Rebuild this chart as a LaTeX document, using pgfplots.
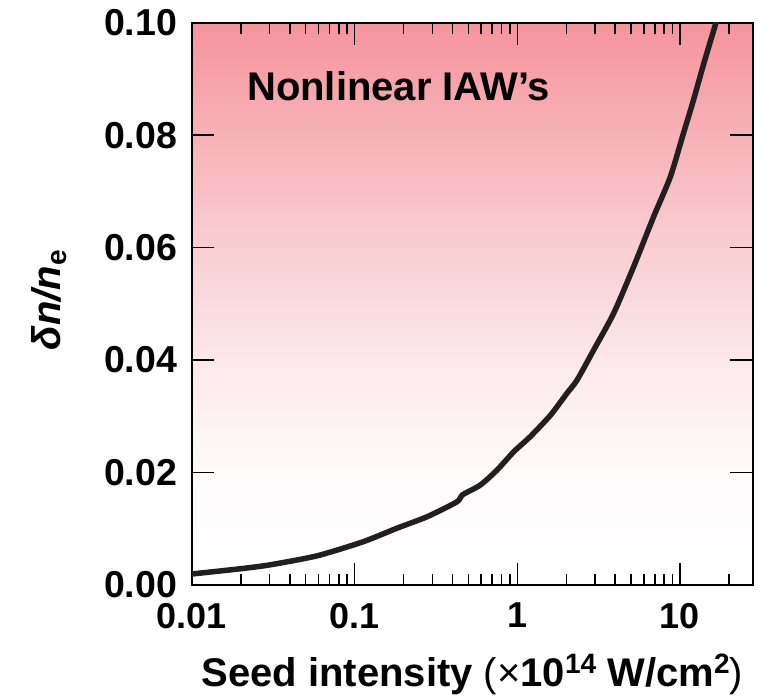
\documentclass[border=0pt]{standalone}
\usepackage{fontspec}
\setmainfont{Liberation Sans}
\usepackage{pgfplots}
\pgfplotsset{compat=1.18}
\definecolor{curve}{RGB}{35,31,32}
\definecolor{pinktop}{RGB}{245,148,155}
\definecolor{p65}{RGB}{247,178,183}
\definecolor{p55}{RGB}{249,206,210}
\definecolor{p45}{RGB}{252,232,235}
\definecolor{p35}{RGB}{254,251,251}
\pgfdeclareverticalshading{bgshade}{100bp}{color(0bp)=(white); color(25bp)=(white); color(35bp)=(p35); color(45bp)=(p45); color(55bp)=(p55); color(65bp)=(p65); color(75bp)=(pinktop); color(100bp)=(pinktop)}
\newcommand{\mysup}[1]{\raisebox{13pt}{\fontsize{28}{28}\selectfont #1}}
\begin{document}
\begin{tikzpicture}
\begin{axis}[
  at={(0,0)}, anchor=south west,
  scale only axis, width=560.7pt, height=562.3pt,
  xmode=log, xmin=0.01, xmax=28, ymin=0, ymax=0.1,
  axis line style={line width=2pt, black},
  axis background/.style={shading=bgshade},
  xtick={0.01,0.1,1,10},
  xticklabels={0.01,0.1,1,10},
  minor xtick={0.02,0.03,0.04,0.05,0.06,0.07,0.08,0.09,0.2,0.3,0.4,0.5,0.6,0.7,0.8,0.9,2,3,4,5,6,7,8,9,20},
  ytick={0,0.02,0.04,0.06,0.08,0.1},
  /pgf/number format/fixed,
  /pgf/number format/fixed zerofill,
  /pgf/number format/precision=2,
  /pgf/number format/assume math mode=true,
  scaled y ticks=false,
  tick align=inside,
  major tick length=22.5pt, minor tick length=11pt,
  every tick/.style={line width=1.5pt, black},
  tick label style={font=\fontsize{36}{36}\selectfont\bfseries, inner sep=0pt},
  xticklabel style={anchor=north, yshift=-18pt},
  yticklabel style={anchor=east, xshift=-14.7pt, font=\fontsize{37.5}{37.5}\selectfont\bfseries},
  clip mode=individual,
]
\addplot[line width=5.5pt, color=curve, line join=round, smooth, tension=0.4] coordinates {
(0.01,0.00196) (0.02,0.0029) (0.0304,0.0036) (0.059,0.0052) (0.113,0.0077)
(0.182,0.0101) (0.279,0.01214) (0.426,0.0148) (0.458,0.0160) (0.593,0.01778)
(0.751,0.02044) (0.951,0.0237) (1.20,0.02637) (1.60,0.0302) (2.02,0.0341)
(2.33,0.03644) (2.95,0.0418) (3.91,0.0483) (5.19,0.0566) (6.89,0.0655)
(8.73,0.0726) (10.5,0.0803) (12.1,0.0862) (14.0,0.0927) (16.5,0.0996) (17.0,0.1010)
};
\node[anchor=base west, inner sep=0pt, font=\fontsize{40}{40}\selectfont\bfseries]
  at (rel axis cs:0.098,0.861) {Nonlinear IAW’s};
\node[anchor=base, inner sep=0pt, font=\fontsize{40}{40}\selectfont\bfseries]
  at (rel axis cs:0.5,-0.18) {Seed intensity {\mdseries(×}10\mysup{14} W/cm\mysup{2}{\mdseries)}};
\node[rotate=90, anchor=center, inner sep=0pt, font=\fontsize{40}{40}\selectfont\bfseries]
  at (rel axis cs:-0.255,0.507) {\textit{δn/n}\textsubscript{e}};
\end{axis}
\pgfresetboundingbox
\useasboundingbox (-192pt,-114pt) rectangle (577pt,585pt);
\end{tikzpicture}
\end{document}
